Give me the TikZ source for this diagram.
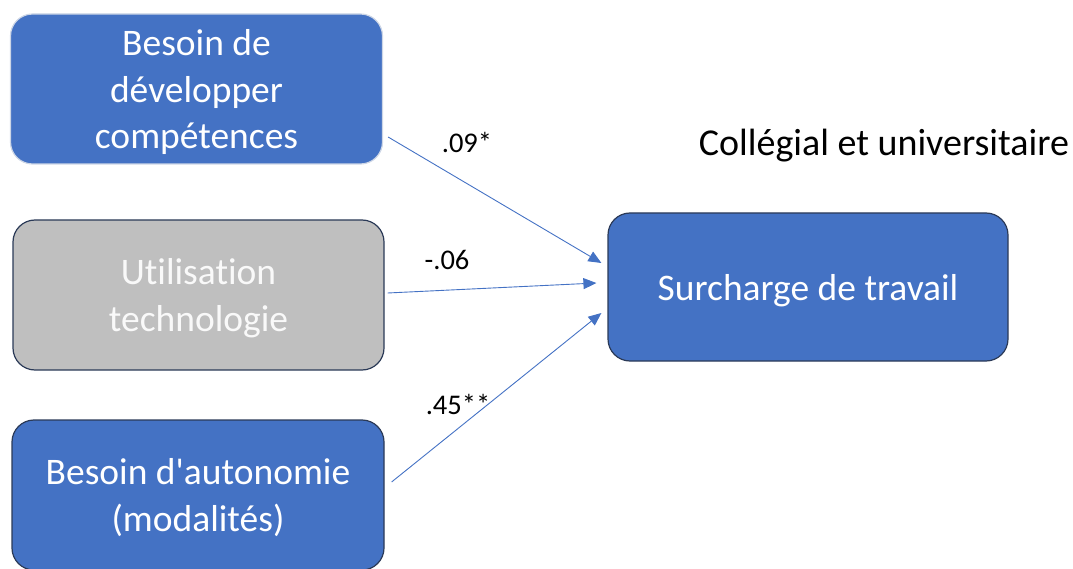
\documentclass[tikz,border=0pt]{standalone}
\usepackage{fontspec}
\setmainfont{Carlito}[Ligatures={NoCommon}]
\usetikzlibrary{arrows.meta,positioning}
\definecolor{boxblue}{HTML}{4472C4}
\definecolor{boxgray}{HTML}{BFBFBF}
\definecolor{boxedge}{HTML}{2B3A57}
\definecolor{paleedge}{HTML}{CDD6E6}
\def\boxfont{\fontsize{37.5}{46.5}\selectfont}

\begin{document}
\begin{tikzpicture}[x=1pt,y=-1pt]
                \tikzstyle{factor}=[rectangle,rounded corners=22pt,draw=boxedge,line width=1.2pt,fill=boxblue,text=white,align=center,font=\boxfont,inner sep=0pt,text depth=0pt]
                \tikzstyle{blue factor}=[factor, minimum width=372pt, minimum height=150pt];
                \tikzstyle{gray factor}=[factor, fill=boxgray, text=white!95!gray, minimum width=371pt, minimum height=150pt];
                \tikzstyle{outcome}=[factor, minimum width=400pt, minimum height=148pt];
                \tikzstyle{link}=[draw=boxblue,line width=0.9pt,-{Triangle[length=13pt,width=11pt]}]
                \tikzstyle{coef}=[font=\fontsize{28.5}{34}\selectfont,inner sep=0pt]

                \useasboundingbox (0,0) rectangle (1073,569);

                % Draw the predictor boxes
                \node[blue factor, draw=paleedge] (dev) at (196.5,89) {Besoin de\\développer\\compétences};
                \node[gray factor] (tech) at (198.5,295) {Utilisation\\technologie};
                \node[blue factor] (auto) at (198,495) {Besoin d\textquotesingle autonomie\\(modalités)};

                % Draw the outcome box
                \node[outcome] (sur) at (808,287) {Surcharge de travail};
                \node[font=\fontsize{38}{44}\selectfont,inner sep=0pt,text depth=0pt] (title) at (884,142) {Collégial et universitaire};

                % Connect every predictor with the outcome
                \path[link] ([shift={(5,48)}]dev.east) -- ([shift={(-6,-24)}]sur.west);
                \path[link] ([shift={(3,-2)}]tech.east) -- ([shift={(-11,-4)}]sur.west);
                \path[link] ([shift={(7,-13)}]auto.east) -- ([shift={(-6,26)}]sur.west);

                % Annotate the paths
                \node[coef] (c-dev) at (467,142) {.09*};
                \node[coef] (c-tech) at (447,260) {-.06};
                \node[coef] (c-auto) at (458,404) {.45**};
            \end{tikzpicture}
\end{document}
